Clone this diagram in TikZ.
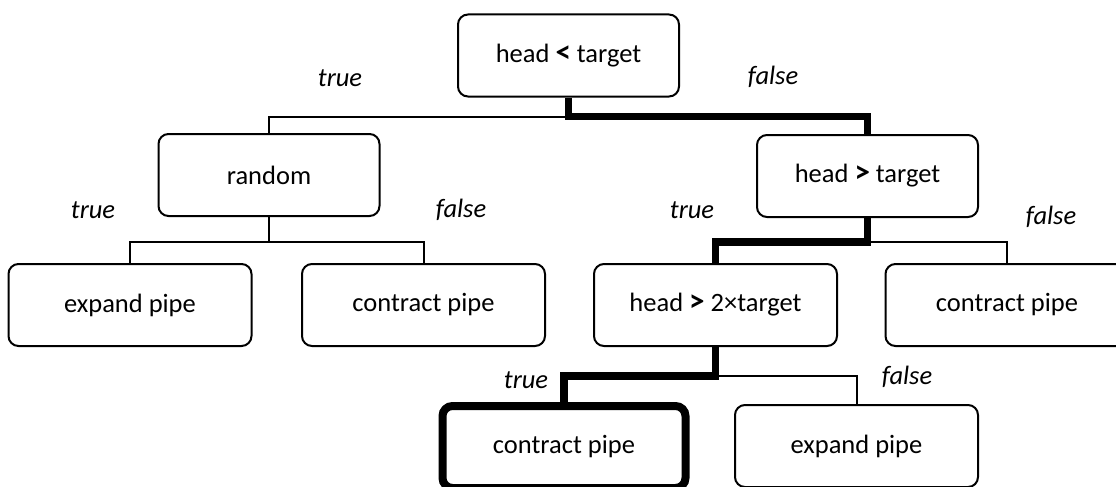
\documentclass[tikz,border=0pt]{standalone}
\usepackage{fontspec}
\setmainfont{Carlito}

\tikzset{
  box/.style={draw, line width=2pt, rounded corners=10pt, minimum width=243pt, minimum height=82pt, inner sep=0pt, font=\fontsize{26.5}{31}\selectfont},
  smallbox/.style={box, minimum width=221pt},
  edge/.style={line width=2pt},
  hot/.style={line width=7.5pt},
  tf/.style={font=\fontsize{26.5}{31}\selectfont\itshape},
}
\newcommand{\cmpsym}[1]{{\fontsize{31}{31}\selectfont\textbf{#1}}}

\begin{document}
\begin{tikzpicture}[x=1pt,y=-1pt]
            \useasboundingbox (0,0) rectangle (1116,487);
            % decisions and actions
            \node[smallbox] (root) at (568.5,55.5) {head \cmpsym{<} target};
            \node[smallbox] (rand) at (269,175) {random};
            \node[smallbox] (gt) at (867.5,176) {head \cmpsym{>} target};
            \node[box] (expA) at (130,305) {expand pipe};
            \node[box] (conA) at (423.5,305) {contract pipe};
            \node[box] (gtt) at (715.5,305) {head \cmpsym{>} 2×target};
            \node[box] (conB) at (1007,305) {contract pipe};
            \node[box, line width=8pt] (conC) at (564,447) {contract pipe};
            \node[box] (expB) at (856.5,446) {expand pipe};

            \path (root.south) ++(0,19) coordinate (j0);
            \path (rand.south) ++(0,25) coordinate (j1);
            \path (gt.south) ++(0,24) coordinate (j2);
            \path (gtt.south) ++(0,29) coordinate (j3);

            \draw [edge] (j0) -| (rand.north);
            \draw [hot] (root.south) -- (j0) -| (gt.north);
            \draw [edge] (rand.south) -- (j1) -| (expA.north);
            \draw [edge] (j1) -| (conA.north);
            \draw [edge] (j2) -| (conB.north);
            \draw [hot] (gt.south) -- (j2) -| (gtt.north);
            \draw [edge] (j3) -| (expB.north);
            \draw [hot] (gtt.south) -- (j3) -| (conC.north);

            % branch labels
            \node[tf] (t0) at (340,78) {true};   \node[tf] (f0) at (773,77) {false};
            \node[tf] (t1) at (93,210) {true};   \node[tf] (f1) at (461,210) {false};
            \node[tf] (t2) at (692,210) {true};  \node[tf] (f2) at (1051,217) {false};
            \node[tf] (t3) at (526,380) {true};  \node[tf] (f3) at (907,377) {false};
\end{tikzpicture}
\end{document}
